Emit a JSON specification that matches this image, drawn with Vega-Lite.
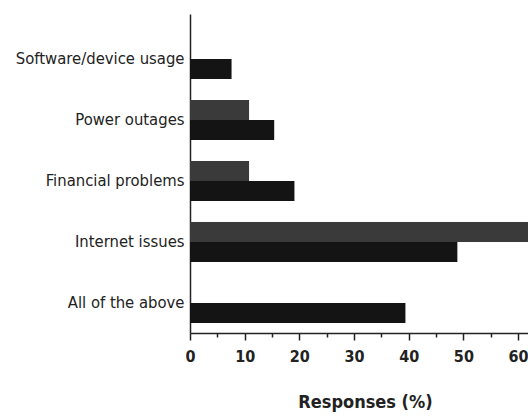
{
  "$schema": "https://vega.github.io/schema/vega-lite/v6.json",
  "autosize": "none",
  "width": 339,
  "height": 319,
  "padding": {"left": 190, "top": 14, "right": 0, "bottom": 83},
  "background": "white",
  "config": {
    "view": {"stroke": null},
    "font": "DejaVu Sans Condensed, Liberation Sans, sans-serif"
  },
  "data": {
    "values": [
      {"category": "Software/device usage", "group": "Group B", "value": 7.6},
      {"category": "Power outages", "group": "Group A", "value": 10.8},
      {"category": "Power outages", "group": "Group B", "value": 15.4},
      {"category": "Financial problems", "group": "Group A", "value": 10.8},
      {"category": "Financial problems", "group": "Group B", "value": 19.1},
      {"category": "Internet issues", "group": "Group A", "value": 63},
      {"category": "Internet issues", "group": "Group B", "value": 48.9},
      {"category": "All of the above", "group": "Group B", "value": 39.4}
    ]
  },
  "layer": [
    {
      "mark": {"type": "bar", "cornerRadius": 0},
      "encoding": {
        "y": {
          "field": "category",
          "type": "nominal",
          "sort": ["Software/device usage", "Power outages", "Financial problems", "Internet issues", "All of the above"],
          "scale": {"paddingInner": 0.344, "paddingOuter": 0.287, "align": 0.714},
          "axis": {
            "title": null,
            "ticks": false,
            "domainColor": "#222",
            "domainWidth": 1.5,
            "labelFontSize": 16.5,
            "labelColor": "#222",
            "labelPadding": 6,
            "labelLimit": 200
          }
        },
        "yOffset": {
          "field": "group",
          "type": "nominal",
          "sort": ["Group A", "Group B"]
        },
        "x": {
          "field": "value",
          "type": "quantitative",
          "scale": {"domain": [0, 62], "nice": false},
          "axis": {
            "values": [0, 10, 20, 30, 40, 50, 60],
            "grid": false,
            "labelFlush": false,
            "title": "Responses (%)",
            "titleFontSize": 18,
            "titleFontWeight": "bold",
            "titleColor": "#222",
            "titlePadding": 29,
            "titleX": 175,
            "labelFontSize": 16,
            "labelFontWeight": "bold",
            "labelColor": "#222",
            "labelPadding": 8,
            "tickSize": 7,
            "tickWidth": 1.5,
            "tickColor": "#222",
            "domainColor": "#222",
            "domainWidth": 1.5
          }
        },
        "color": {
          "field": "group",
          "type": "nominal",
          "scale": {"domain": ["Group A", "Group B"], "range": ["#3a3a3a", "#141414"]},
          "legend": null
        }
      }
    },
    {
      "mark": {"type": "bar", "opacity": 0},
      "encoding": {
        "y": {
          "field": "category",
          "type": "nominal",
          "sort": ["Software/device usage", "Power outages", "Financial problems", "Internet issues", "All of the above"]
        },
        "x": {
          "field": "value",
          "type": "quantitative",
          "axis": {
            "orient": "bottom",
            "values": [5, 15, 25, 35, 45, 55],
            "labels": false,
            "title": null,
            "grid": false,
            "domain": false,
            "tickSize": 4,
            "tickWidth": 1.5,
            "tickColor": "#222"
          }
        }
      }
    }
  ],
  "resolve": {"axis": {"x": "independent"}}
}
